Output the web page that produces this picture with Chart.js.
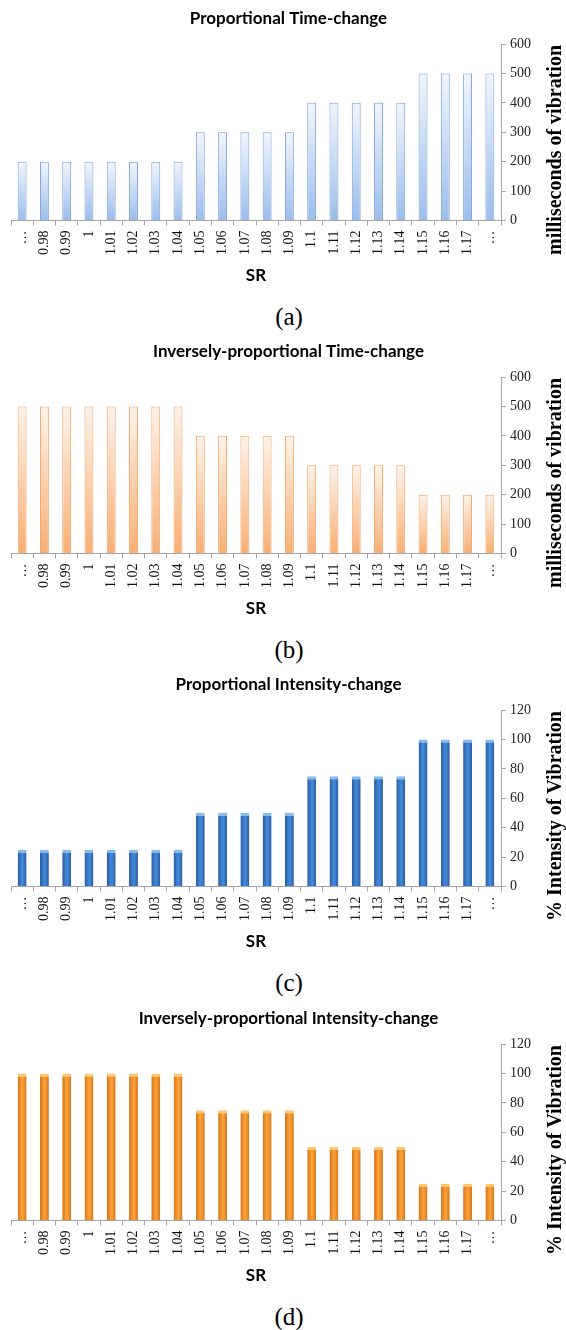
<!DOCTYPE html>
<html>
<head>
<meta charset="utf-8">
<script src="https://cdn.jsdelivr.net/npm/chart.js@4.4.1/dist/chart.umd.min.js"></script>
<style>
  html, body { margin: 0; padding: 0; background: #fff; }
  #wrap { position: relative; width: 566px; height: 1330px; overflow: hidden; }
  canvas { position: absolute; left: 0; }
  .cap { position: absolute; left: 0; width: 578px; text-align: center;
         font-family: "Liberation Serif", "Times New Roman", serif; font-size: 25px; color: #000;
         line-height: 28px; }
</style>
</head>
<body>
<div id="wrap">
  <canvas id="cA" width="566" height="300" style="top:0px"></canvas>
  <div class="cap" style="top:303px">(a)</div>
  <canvas id="cB" width="566" height="300" style="top:333px"></canvas>
  <div class="cap" style="top:636px">(b)</div>
  <canvas id="cC" width="566" height="300" style="top:666px"></canvas>
  <div class="cap" style="top:969px">(c)</div>
  <canvas id="cD" width="566" height="300" style="top:1000px"></canvas>
  <div class="cap" style="top:1303px">(d)</div>
</div>
<script>
// ---- data ----
const categories = ['…', '0.98', '0.99', '1', '1.01', '1.02', '1.03', '1.04', '1.05', '1.06', '1.07',
                    '1.08', '1.09', '1.1', '1.11', '1.12', '1.13', '1.14', '1.15', '1.16', '1.17', '…'];
const propTimeMs = [200, 200, 200, 200, 200, 200, 200, 200, 300, 300, 300,
                    300, 300, 400, 400, 400, 400, 400, 500, 500, 500, 500];
const invTimeMs = [500, 500, 500, 500, 500, 500, 500, 500, 400, 400, 400,
                   400, 400, 300, 300, 300, 300, 300, 200, 200, 200, 200];
const propIntensityPct = [25, 25, 25, 25, 25, 25, 25, 25, 50, 50, 50,
                          50, 50, 75, 75, 75, 75, 75, 100, 100, 100, 100];
const invIntensityPct = [100, 100, 100, 100, 100, 100, 100, 100, 75, 75, 75,
                         75, 75, 50, 50, 50, 50, 50, 25, 25, 25, 25];
const timeAxis = { min: 0, max: 600, step: 100 };
const intensityAxis = { min: 0, max: 120, step: 20 };
const chartTitles = ['Proportional Time-change', 'Inversely-proportional Time-change',
                     'Proportional Intensity-change', 'Inversely-proportional Intensity-change'];
const yTitles = ['milliseconds of vibration', 'milliseconds of vibration',
                 '% Intensity of Vibration', '% Intensity of Vibration'];
const xTitle = 'SR';

// ---- styling helpers ----
Chart.defaults.font.family = '"Liberation Serif", "Times New Roman", serif';
const BAR_PCT = 0.4;
const ok = (...v) => v.every(Number.isFinite);
function vGrad(top, bottom) {
  return (c) => {
    const ch = c.chart, y = ch.scales && ch.scales.y;
    if (c.type !== 'data' || !y || c.raw == null) return bottom;
    const yt = y.getPixelForValue(c.raw), yb = y.getPixelForValue(0);
    if (!ok(yt, yb) || yt === yb) return bottom;
    const g = ch.ctx.createLinearGradient(0, yt, 0, yb);
    g.addColorStop(0, top);
    g.addColorStop(1, bottom);
    return g;
  };
}
function hGrad(edge, mid) {
  return (c) => {
    const ch = c.chart, x = ch.scales && ch.scales.x;
    if (c.type !== 'data' || !x) return mid;
    const cx = x.getPixelForValue(c.dataIndex);
    const hw = (x.width / categories.length) * BAR_PCT / 2;
    if (!ok(cx, hw) || hw <= 0) return mid;
    const g = ch.ctx.createLinearGradient(cx - hw, 0, cx + hw, 0);
    g.addColorStop(0, edge);
    g.addColorStop(0.45, mid);
    g.addColorStop(0.6, mid);
    g.addColorStop(1, edge);
    return g;
  };
}

const rightTitlePlugin = {
  id: 'rightTitle',
  afterDraw(chart, args, opts) {
    const ctx = chart.ctx, ca = chart.chartArea;
    ctx.save();
    ctx.translate(opts.x, ca.top + opts.dy);
    ctx.rotate(-Math.PI / 2);
    ctx.font = 'bold 20px "Liberation Serif", "Times New Roman", serif';
    ctx.fillStyle = '#000';
    ctx.textAlign = 'center';
    ctx.textBaseline = 'middle';
    ctx.fillText(opts.text, 0, 0);
    ctx.restore();
  }
};

const AXIS_GREY = '#a6a6a6';
const tickFont = () => ({ family: '"Liberation Serif", "Times New Roman", serif', size: 14, weight: 'normal' });
const headFont = () => ({ family: 'Lato, "Open Sans", sans-serif', size: 17, weight: 'bold' });

function makeChart(id, title, yTitle, values, axis, ds) {
  return new Chart(document.getElementById(id), {
    type: 'bar',
    data: {
      labels: categories,
      datasets: [Object.assign({
        data: values,
        barPercentage: BAR_PCT,
        categoryPercentage: 1
      }, ds)]
    },
    options: {
      responsive: false,
      animation: false,
      events: [],
      layout: { padding: { top: 0, left: 11, right: 0, bottom: 0 } },
      plugins: {
        legend: { display: false },
        tooltip: { enabled: false },
        title: {
          display: true, text: title, color: '#000', font: headFont(),
          padding: { top: 8.8, bottom: 14.8 }
        },
        rightTitle: { text: yTitle, x: 556, dy: 106 }
      },
      scales: {
        x: {
          grid: { display: true, drawOnChartArea: false, drawTicks: true, tickLength: 5,
                  color: AXIS_GREY, offset: true },
          border: { display: true, color: AXIS_GREY },
          ticks: { autoSkip: false, minRotation: 90, maxRotation: 90, padding: 5,
                   font: tickFont(), color: '#111' },
          title: { display: true, text: xTitle, color: '#000', font: headFont(),
                   padding: { top: 0, bottom: 14.3 } },
          afterFit: (s) => { s.height = 79.5; }
        },
        y: {
          position: 'right',
          min: axis.min, max: axis.max,
          ticks: { stepSize: axis.step, padding: 4, font: tickFont(), color: '#222' },
          grid: { drawOnChartArea: false, drawTicks: true, tickLength: 5, color: AXIS_GREY },
          border: { display: true, color: AXIS_GREY },
          afterFit: (s) => { s.width = 65; }
        }
      }
    },
    plugins: [rightTitlePlugin]
  });
}

function build() {
  const charts = [
    makeChart('cA', chartTitles[0], yTitles[0], propTimeMs, timeAxis, {
      backgroundColor: vGrad('#f2f6fd', '#9bbdeb'),
      borderColor: '#7ba2d8', borderWidth: 1
    }),
    makeChart('cB', chartTitles[1], yTitles[1], invTimeMs, timeAxis, {
      backgroundColor: vGrad('#fef3ea', '#f7af75'),
      borderColor: '#f2a466', borderWidth: 1
    }),
    makeChart('cC', chartTitles[2], yTitles[2], propIntensityPct, intensityAxis, {
      backgroundColor: hGrad('#2a5a9c', '#4186d6'),
      borderColor: '#86bbf0', borderWidth: { top: 3, left: 0, right: 0, bottom: 0 }
    }),
    makeChart('cD', chartTitles[3], yTitles[3], invIntensityPct, intensityAxis, {
      backgroundColor: hGrad('#d0761a', '#fb9d36'),
      borderColor: '#fdc870', borderWidth: { top: 3, left: 0, right: 0, bottom: 0 }
    })
  ];
  // second pass so scriptable gradients see final scale geometry
  charts.forEach(c => c.update('none'));
}
build();
</script>
</body>
</html>
